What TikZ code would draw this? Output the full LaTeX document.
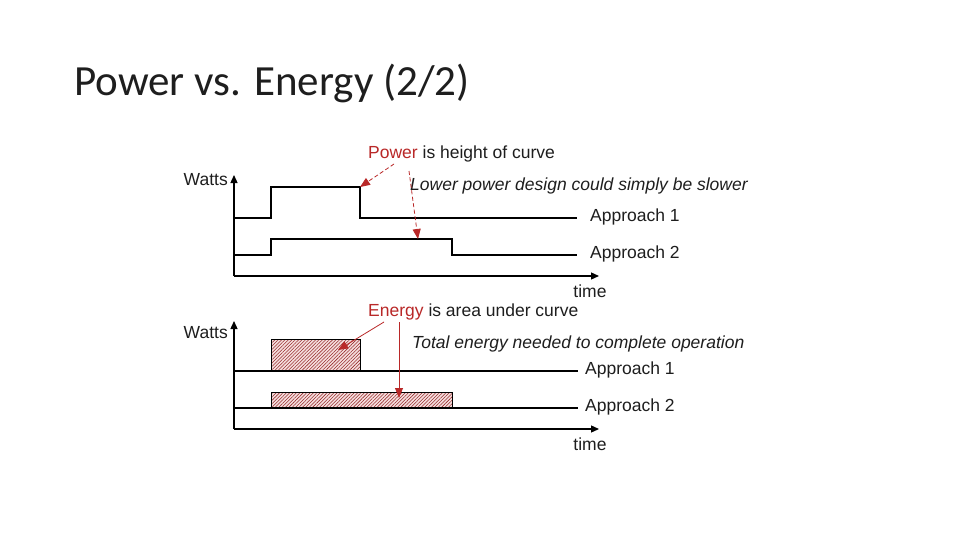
\documentclass[tikz,border=0pt]{standalone}
\usepackage{fontspec}
\setmainfont{Liberation Sans}
\newfontfamily\titlefont{Carlito}
\usetikzlibrary{arrows.meta,patterns.meta}
\definecolor{darkred}{RGB}{185,40,40}
\definecolor{hatchline}{RGB}{150,45,45}
\definecolor{hatchbg}{RGB}{246,222,222}
\definecolor{txt}{RGB}{30,30,30}
\begin{document}
\begin{tikzpicture}[x=1pt,y=-1pt,
  curve/.style={line width=1.3pt,line join=miter},
  axis/.style={line width=1.3pt,-{Triangle[length=8pt,width=7pt]}},
  lbl/.style={font=\fontsize{17.5}{20}\selectfont,inner sep=0pt,text=txt},
  redarrow/.style={darkred,line width=0.8pt,-{Triangle[length=10pt,width=8pt]}},
  hatched/.style={draw=black,line width=1pt,preaction={fill=hatchbg},
    pattern={Lines[angle=45,distance=2.4pt,line width=0.55pt]},pattern color=hatchline}]
\useasboundingbox[fill=white] (0,0) rectangle (960,540);
\node[anchor=base west,inner sep=0pt,text=txt,font=\titlefont\fontsize{43}{50}\selectfont] (title) at (74,96) {Power vs. Energy (2/2)};

% ---------- top chart ----------
\coordinate (o1) at (234,276);
\coordinate (y1) at (234,175);
\coordinate (x1) at (599,276);
\draw[axis] (o1) -- (y1);
\draw[axis] (o1) -- (x1);
\node[lbl,anchor=east] (watts1) at (228,180) {Watts};
\node[lbl] (time1) at (590,291) {time};
\draw[curve] (234,218) -- (271,218) -- (271,187) -- (360,187) coordinate (p1corner) -- (360,218) -- (577,218);
\node[lbl,anchor=west] (ap11) at (590,217) {Approach 1};
\draw[curve] (234,255) -- (271,255) -- (271,239) -- (452,239) -- (452,255) -- (577,255);
\coordinate (p2top) at (418,239);
\node[lbl,anchor=west] (ap21) at (590,254) {Approach 2};
\node[lbl,anchor=west] (powtxt) at (368,154) {\textcolor{darkred}{Power} is height of curve};
\node[lbl,anchor=west,font=\fontsize{17.5}{20}\selectfont\itshape] (lowtxt) at (410,186) {Lower power design could simply be slower};
\coordinate (pa) at (394,164);
\coordinate (pb) at (409,171);
\draw[redarrow,dash pattern=on 4pt off 2.5pt] (pa) -- (p1corner);
\draw[redarrow,dash pattern=on 4pt off 2.5pt] (pb) -- (p2top);

% ---------- bottom chart ----------
\coordinate (o2) at (234,429);
\coordinate (y2) at (234,321);
\coordinate (x2) at (599,429);
\draw[axis] (o2) -- (y2);
\draw[axis] (o2) -- (x2);
\node[lbl,anchor=east] (watts2) at (228,333) {Watts};
\node[lbl] (time2) at (590,444) {time};
\draw[hatched] (271,371) rectangle (360,339);
\draw[hatched] (271,408) rectangle (452,392);
\draw[curve] (234,371) -- (578,371);
\draw[curve] (234,408) -- (578,408);
\node[lbl,anchor=west] (ap12) at (585,370) {Approach 1};
\node[lbl,anchor=west] (ap22) at (585,407) {Approach 2};
\node[lbl,anchor=west] (entxt) at (368,312) {\textcolor{darkred}{Energy} is area under curve};
\node[lbl,anchor=west,font=\fontsize{17.5}{20}\selectfont\itshape] (tottxt) at (412,344) {Total energy needed to complete operation};
\coordinate (ea) at (384,322);
\coordinate (eb) at (338,350);
\coordinate (ec) at (399,322);
\coordinate (ed) at (399,398);
\draw[redarrow] (ea) -- (eb);
\draw[redarrow] (ec) -- (ed);
\end{tikzpicture}
\end{document}
